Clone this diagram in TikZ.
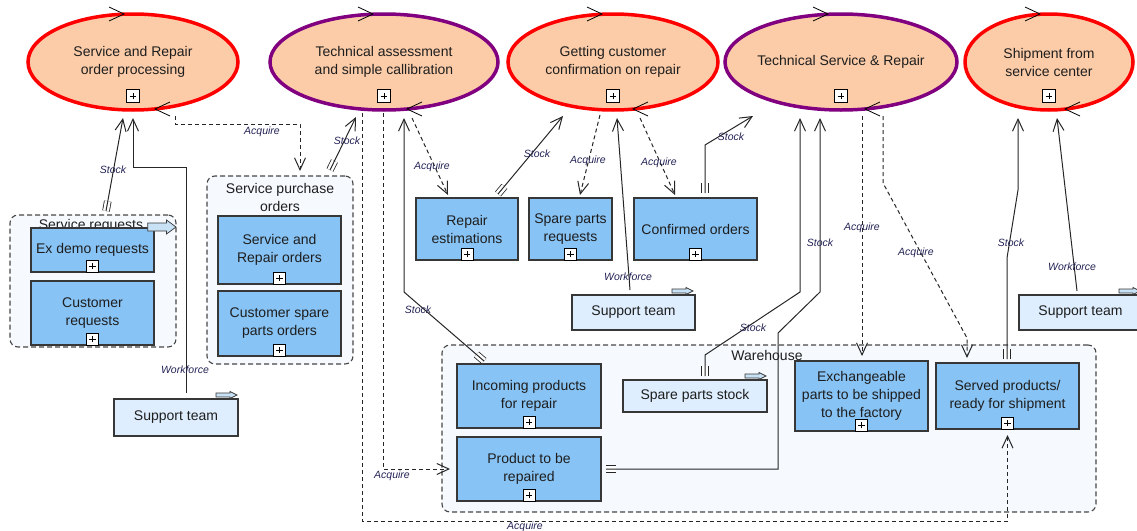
\documentclass[tikz,border=0pt]{standalone}
\usepackage{fontspec}
\setmainfont{Liberation Sans}
\usetikzlibrary{shapes.geometric,arrows.meta,calc}

\definecolor{peach}{RGB}{252,204,168}
\definecolor{procred}{RGB}{255,0,0}
\definecolor{procpurple}{RGB}{128,0,128}
\definecolor{objblue}{RGB}{135,195,245}
\definecolor{objline}{RGB}{55,55,55}
\definecolor{agentfill}{RGB}{222,238,254}
\definecolor{grpfill}{RGB}{246,250,255}
\definecolor{grpline}{RGB}{70,70,70}
\definecolor{lblcol}{RGB}{35,35,85}
\definecolor{flagfill}{RGB}{200,225,245}
\definecolor{txtcol}{RGB}{30,30,30}

\newcommand{\mainfnt}{\fontsize{14}{18}\selectfont}
\newcommand{\lblfnt}{\fontsize{10.5}{12}\selectfont\itshape}
\newcommand{\tailticks}[2]{\draw[tailmark] (#1) -- ($(#1)!10pt!(#2)$);}

\tikzset{every picture/.style={line width=0.75pt}}
\tikzset{
  proc/.style={ellipse, fill=peach, line width=3.5pt, minimum height=96, inner sep=-4pt, outer sep=0pt, align=center, font=\mainfnt, text=txtcol},
  obj/.style={rectangle, draw=objline, fill=objblue, line width=1.2pt, inner sep=0pt, outer sep=0pt, align=center, font=\mainfnt, text=txtcol},
  agent/.style={obj, fill=agentfill},
  grp/.style={rectangle, rounded corners=8pt, draw=grpline, fill=grpfill, dash pattern=on 5pt off 3pt, line width=1.1pt, outer sep=0pt},
  grplbl/.style={inner sep=0pt, align=center, font=\mainfnt, text=txtcol},
  lbl/.style={inner sep=0pt, font=\lblfnt, text=lblcol},
  stock/.style={draw=black!85, line width=1pt, -{Straight Barb[length=12pt,width=11pt]}},
  workforce/.style={stock},
  acquire/.style={stock, dash pattern=on 4pt off 3pt},
  tailmark/.style={draw=black!85, line width=0.8pt, double distance=6pt},
  plusbox/.pic={\draw[line width=0.8pt, fill=white] (-6,-6) rectangle (6,6);
    \draw[line width=1pt] (-3.2,0) -- (3.2,0) (0,-3.2) -- (0,3.2);},
  chevr/.pic={\draw[line width=0.8pt] (-15,-7) -- (0,0) -- (-15,7);},
  chevl/.pic={\draw[line width=0.8pt] (15,-7) -- (0,0) -- (15,7);},
  stflag/.pic={\draw[line width=0.7pt, draw=objline, fill=flagfill] (-21,-2) -- (-7,-2) -- (-7,-3.5) -- (0,0) -- (-7,3.5) -- (-7,2) -- (-21,2) -- cycle;}
}

\begin{document}
\begin{tikzpicture}[x=1pt,y=1pt,yscale=-1,xscale=1]
\useasboundingbox (0,0) rectangle (1137,530);

% Groups
\node[grp, minimum width=166, minimum height=132] (gsr) at (93,281) {};
\node[grp, minimum width=146, minimum height=188] (gspo) at (280,270) {};
\node[grp, minimum width=654, minimum height=167] (gwh) at (769,428.5) {};
\node[grplbl, anchor=base] (gsrl) at (91,229) {Service requests};
\node[grplbl] (gspol) at (280,197) {Service purchase\\orders};
\node[grplbl] (gwhl) at (767,355) {Warehouse};

% Processes
\node[proc, draw=procred, minimum width=210] (sorp) at (133,62) {Service and Repair\\order processing};
\node[proc, draw=procpurple, minimum width=228] (tasc) at (384,62) {Technical assessment\\and simple callibration};
\node[proc, draw=procred, minimum width=210] (gccr) at (613,62) {Getting customer\\confirmation on repair};
\node[proc, draw=procpurple, minimum width=232] (tsr) at (841,62) {Technical Service \& Repair};
\node[proc, draw=procred, minimum width=168] (ssc) at (1049,62) {Shipment from\\service center};

% Objects
\node[obj, minimum width=123, minimum height=44] (exd) at (92.5,250) {Ex demo requests};
\node[obj, minimum width=123, minimum height=64] (cur) at (92.5,313) {Customer\\requests};
\node[obj, minimum width=123, minimum height=68] (sro) at (279.5,250) {Service and\\Repair orders};
\node[obj, minimum width=123, minimum height=65] (cspo) at (279.5,323.5) {Customer spare\\parts orders};
\node[obj, minimum width=102, minimum height=62] (rep) at (467,229) {Repair\\estimations};
\node[obj, minimum width=83, minimum height=62] (spr) at (570.5,229) {Spare parts\\requests};
\node[obj, minimum width=123, minimum height=62] (cfo) at (695.5,229) {Confirmed orders};
\node[obj, minimum width=144, minimum height=64] (inc) at (529,396) {Incoming products\\for repair};
\node[obj, minimum width=144, minimum height=64] (ptr) at (529,469) {Product to be\\repaired};
\node[agent, minimum width=144, minimum height=32] (sps) at (695,396) {Spare parts stock};
\node[obj, minimum width=133, minimum height=70] (exc) at (861.5,396) {Exchangeable\\parts to be shipped\\to the factory};
\node[obj, minimum width=143, minimum height=66] (srv) at (1007.5,396) {Served products/\\ready for shipment};
\node[agent, minimum width=124, minimum height=37] (st1) at (176,417.5) {Support team};
\node[agent, minimum width=123, minimum height=35] (st2) at (633.5,312.5) {Support team};
\node[agent, minimum width=123, minimum height=35] (st3) at (1080.5,312.5) {Support team};

% Plus boxes
\foreach \n in {exd,cur,sro,cspo,rep,spr,cfo,inc,ptr,exc,srv}
  \pic at ($(\n.south)+(0,-6)$) {plusbox};
\foreach \n in {sorp,tasc,gccr,tsr,ssc}
  \pic[scale=1.08] at ($(\n.south)+(0,-14)$) {plusbox};

% Flags
\pic[xscale=1.35,yscale=2] at ($(gsr.north east)+(0,12)$) {stflag};
\pic at ($(st1.north east)+(-1,-4)$) {stflag};
\pic at ($(st2.north east)+(-2,-4)$) {stflag};
\pic at ($(st3.north east)+(-2,-4)$) {stflag};
\pic at ($(sps.north east)+(-1,-4)$) {stflag};

% Chevrons
\foreach \n/\a/\b in {sorp/-9/22,tasc/-11/23,gccr/-11/20,tsr/-13/24,ssc/-9/16}{
  \pic at ($(\n.north)+(\a,0)$) {chevr};
  \pic at ($(\n.south)+(\b,-1)$) {chevl};
}

% Connector ends
\coordinate (c1t) at ($(gsr.north)+(13,-4)$);
\coordinate (c1h) at ($(sorp.south)+(-10,8)$);
\coordinate (c2t) at ($(st1.north)+(10,-6)$);
\coordinate (c2h) at ($(sorp.south)+(0,8)$);
\coordinate (c3t) at ($(sorp.south)+(42,6)$);
\coordinate (c3h) at ($(gspo.north)+(20,-5)$);
\coordinate (c4t) at ($(gspo.north)+(50,-6)$);
\coordinate (c4h) at ($(tasc.south)+(-28,7)$);
\coordinate (c5t) at ($(tasc.south)+(-22,3)$);
\coordinate (c5h) at ($(srv.south)+(0,6)$);
\coordinate (c6t) at ($(tasc.south)+(-1,3)$);
\coordinate (c6h) at ($(ptr.west)+(-7,0)$);
\coordinate (c7t) at ($(inc.north)+(-45,-3)$);
\coordinate (c7b) at (404,292);
\coordinate (c7h) at ($(tasc.south)+(20,8)$);
\coordinate (c8t) at ($(tasc.south)+(28,8)$);
\coordinate (c8h) at ($(rep.north)+(-19,-3)$);
\coordinate (c9t) at ($(rep.north)+(31,-4)$);
\coordinate (c9h) at ($(gccr.south)+(-50,6)$);
\coordinate (c10t) at ($(gccr.south)+(-13,5)$);
\coordinate (c10h) at ($(spr.north)+(9.5,-3)$);
\coordinate (c11t) at ($(st2.north)+(-3.5,-5)$);
\coordinate (c11h) at ($(gccr.south)+(4,8)$);
\coordinate (c12t) at ($(gccr.south)+(27,8)$);
\coordinate (c12h) at ($(cfo.north)+(-20.5,-3)$);
\coordinate (c13t) at ($(cfo.north)+(9.5,-5)$);
\coordinate (c13b) at (705,145);
\coordinate (c13h) at ($(tsr.south)+(-88,6)$);
\coordinate (c14t) at ($(sps.north)+(10,-4)$);
\coordinate (c14b) at (705,355);
\coordinate (c14h) at ($(tsr.south)+(-41,8)$);
\coordinate (c15t) at ($(ptr.east)+(5,0)$);
\coordinate (c15b) at (778,469);
\coordinate (c15h) at ($(tsr.south)+(-21,8)$);
\coordinate (c16t) at ($(tsr.south)+(21,6)$);
\coordinate (c16h) at ($(exc.north)+(0.5,-5)$);
\coordinate (c17t) at ($(tsr.south)+(42,6)$);
\coordinate (c17h) at ($(srv.north)+(-40.5,-5)$);
\coordinate (c18t) at ($(srv.north)+(-0.5,-4)$);
\coordinate (c18b) at (1007,258);
\coordinate (c18h) at ($(ssc.south)+(-31,8)$);
\coordinate (c19t) at ($(st3.north)+(-3.5,-4)$);
\coordinate (c19h) at ($(ssc.south)+(8,8)$);

% Tail marks
\tailticks{c1t}{c1h}
\tailticks{c4t}{c4h}
\tailticks{c7t}{c7b}
\tailticks{c9t}{c9h}
\tailticks{c13t}{c13b}
\tailticks{c14t}{c14b}
\tailticks{c15t}{c15b}
\tailticks{c18t}{c18b}

% Connectors
\draw[stock] (c1t) -- (c1h);
\draw[workforce] (c2t) -- (186,167) -- (133,167) -- (c2h);
\draw[acquire] (c3t) -- (175,124) -- (300,124) -- (c3h);
\draw[stock] (c4t) -- (c4h);
\draw[acquire] (c5t) -- (362,521) -- (1007.5,521) -- (c5h);
\draw[acquire] (c6t) -- (383,469) -- (c6h);
\draw[stock] (c7t) -- (c7b) -- (c7h);
\draw[acquire] (c8t) -- (c8h);
\draw[stock] (c9t) -- (c9h);
\draw[acquire] (c10t) -- (c10h);
\draw[workforce] (c11t) -- (c11h);
\draw[acquire] (c12t) -- (c12h);
\draw[stock] (c13t) -- (c13b) -- (c13h);
\draw[stock] (c14t) -- (c14b) -- (800,292) -- (c14h);
\draw[stock] (c15t) -- (c15b) -- (778,333) -- (820,292) -- (c15h);
\draw[acquire] (c16t) -- (c16h);
\draw[acquire] (c17t) -- (883,183) -- (967,338) -- (c17h);
\draw[stock] (c18t) -- (c18b) -- (1018,190) -- (c18h);
\draw[workforce] (c19t) -- (c19h);

% Connector labels
\node[lbl] (l1) at (113,170) {Stock};
\node[lbl] (l2) at (185,370) {Workforce};
\node[lbl] (l3) at (262,132) {Acquire};
\node[lbl] (l4) at (347,141) {Stock};
\node[lbl] (l5) at (525,527) {Acquire};
\node[lbl] (l6) at (392,476) {Acquire};
\node[lbl] (l7) at (418,310) {Stock};
\node[lbl] (l8) at (432,167) {Acquire};
\node[lbl] (l9) at (537,154) {Stock};
\node[lbl] (l10) at (588,161) {Acquire};
\node[lbl] (l11) at (628,277) {Workforce};
\node[lbl] (l12) at (659,163) {Acquire};
\node[lbl] (l13) at (731,137) {Stock};
\node[lbl] (l14) at (753,328) {Stock};
\node[lbl] (l15) at (820,243) {Stock};
\node[lbl] (l16) at (862,228) {Acquire};
\node[lbl] (l17) at (916,253) {Acquire};
\node[lbl] (l18) at (1011,243) {Stock};
\node[lbl] (l19) at (1072,267) {Workforce};

\end{tikzpicture}
\end{document}
